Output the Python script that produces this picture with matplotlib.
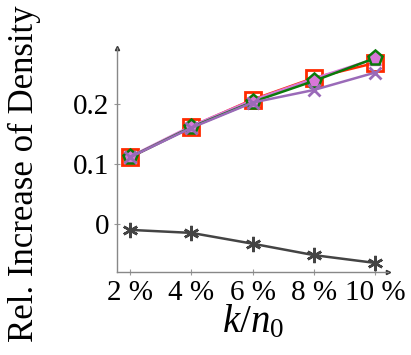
import numpy as np
import matplotlib
matplotlib.use('Agg')
import matplotlib.pyplot as plt

plt.rcParams['font.family'] = 'Liberation Serif'
plt.rcParams['mathtext.fontset'] = 'custom'
plt.rcParams['mathtext.rm'] = 'Liberation Serif'
plt.rcParams['mathtext.it'] = 'Liberation Serif:italic'

# x positions (percent of n0)
k_pct = [2, 4, 6, 8, 10]
tick_labels = ['2 %', '4 %', '6 %', '8 %', '10 %']

# relative increase of density per variant
red_sq = [0.111, 0.162, 0.207, 0.243, 0.268]
pink_tri = [0.112, 0.163, 0.206, 0.242, 0.275]
green_pent = [0.111, 0.161, 0.203, 0.238, 0.276]
purple_x = [0.111, 0.160, 0.202, 0.223, 0.252]
gray_star = [-0.010, -0.015, -0.033, -0.052, -0.065]

fig = plt.figure(figsize=(4.11, 3.55), dpi=100)
ax = fig.add_axes([0.285, 0.234, 0.659, 0.631])

ax.plot(k_pct, red_sq, color='#ff2a00', lw=1.8, marker='s', ms=11,
        mfc='none', mew=2.0, zorder=3)
ax.plot(k_pct, pink_tri, color='#d877d8', lw=1.8, marker='^', ms=9,
        mfc='#d877d8', zorder=3)
ax.plot(k_pct, green_pent, color='#0a7a0a', lw=1.8, marker='p', ms=11,
        mfc='#d877d8', mec='#0a7a0a', mew=1.8, zorder=4)
ax.plot(k_pct, purple_x, color='#9a6ab8', lw=1.8, marker='x', ms=9,
        mew=2.0, zorder=5)
ax.plot(k_pct, gray_star, color='#444444', lw=1.8, marker=(6, 2, 0), ms=11,
        mew=1.8, zorder=3)

ax.set_xlim(1.575, 10.42)
ax.set_ylim(-0.08, 0.293)
ax.set_xticks(k_pct)
ax.set_xticklabels(tick_labels)
ax.set_yticks([0, 0.1, 0.2])
ax.set_yticklabels(['0', '0.1', '0.2'])
ax.tick_params(labelsize=21, direction='inout', length=5, color='#999999',
               pad=3)

for side in ['top', 'right']:
    ax.spines[side].set_visible(False)
for side in ['left', 'bottom']:
    ax.spines[side].set_color('#888888')
    ax.spines[side].set_linewidth(1.0)

# axis arrows
ax.plot(1, 0, '>', color='#333333', ms=3, transform=ax.transAxes, clip_on=False)
ax.plot(0, 1, '^', color='#333333', ms=3, transform=ax.transAxes, clip_on=False)

ax.set_xlabel(r'$k/n_0$', fontsize=28)
ax.xaxis.set_label_coords(0.5, -0.14)
ax.set_ylabel('Rel. Increase of Density', fontsize=25)
ax.yaxis.set_label_coords(-0.28, 0.44)

fig.savefig('out.png', dpi=100)
